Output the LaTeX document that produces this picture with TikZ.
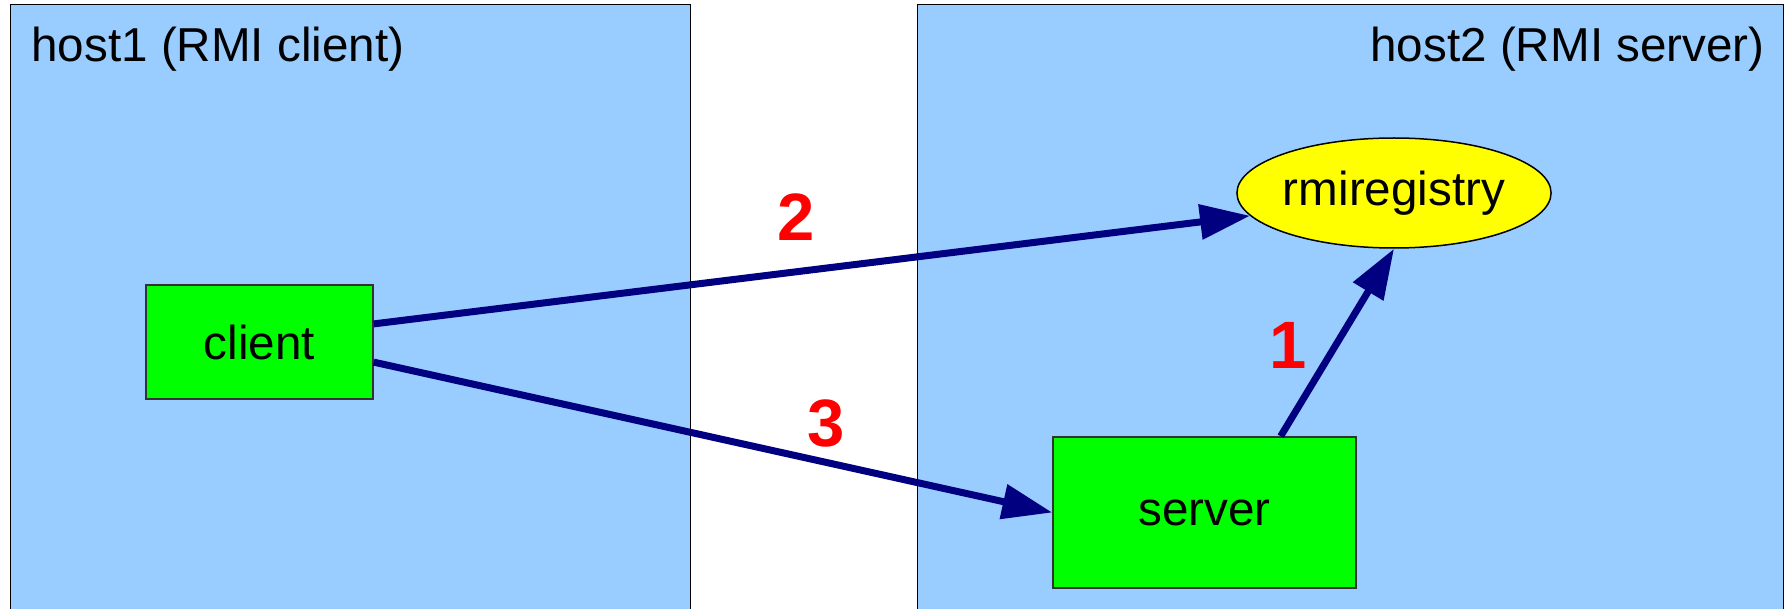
\documentclass[tikz,border=0pt]{standalone}
\usepackage{fontspec}
\setmainfont{Liberation Sans}
\usetikzlibrary{arrows.meta,shapes.geometric,calc}
\definecolor{hostblue}{HTML}{99CCFF}
\definecolor{boxgreen}{HTML}{00FF00}
\definecolor{regyellow}{HTML}{FFFF00}
\definecolor{callnavy}{HTML}{000080}
\definecolor{numred}{HTML}{FF0000}

\begin{document}
\begin{tikzpicture}[x=0.5pt, y=-0.5pt,
  every node/.style={font=\fontsize{23.8}{28}\selectfont},
  host/.style={draw=black, line width=0.5pt, fill=hostblue},
  proc/.style={draw=black!80, line width=0.75pt, fill=boxgreen, inner sep=0pt},
  call/.style={-{Triangle[length=25pt,width=17pt]}, line width=3.5pt, callnavy},
  num/.style={text=numred, font=\fontsize{33.5}{36}\selectfont\bfseries}]
\useasboundingbox (0,0) rectangle (1788,609);
\clip (0,0) rectangle (1788,609);
% Draw hosts
\draw[host] (10,5) rectangle (690,640);
\draw[host] (917,5) rectangle (1783,640);
\node[anchor=base west, inner sep=0pt] (title1) at (31,62) {host1 (RMI client)};
\node[anchor=base east, inner sep=0pt] (title2) at (1765,62) {host2 (RMI server)};
% Draw processes
\node[proc, minimum width=113.5pt, minimum height=57pt] (client) at (259.5,342) {client};
\node[proc, minimum width=151.5pt, minimum height=75.5pt] (server) at (1204.5,512.5) {server};
\node[proc, ellipse, fill=regyellow, draw=black, minimum width=152pt, minimum height=55pt] (registry) at (1394,193) {rmiregistry};
% Draw calls
\draw[call] ($(server.north)!0.5!(server.north east)$) -- (registry.south);
\draw[call] (client.9.5) -- (registry.189);
\draw[call] (client.-10.5) -- (server.west);
% Draw labels
\node[num] (n1) at (1288,345) {1};
\node[num] (n2) at (796,217) {2};
\node[num] (n3) at (826,423) {3};
\end{tikzpicture}
\end{document}
